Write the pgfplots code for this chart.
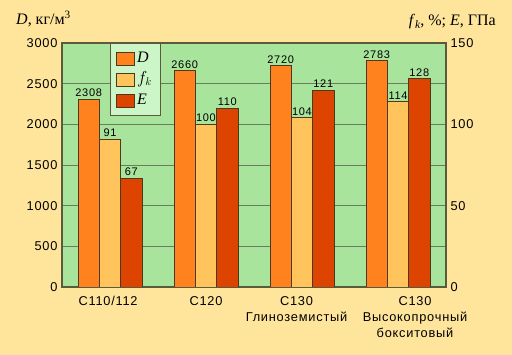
\documentclass[border=0pt]{standalone}
\usepackage{pgfplots}
\pgfplotsset{compat=1.18}
\usepackage{fontspec}
\setmainfont{Liberation Sans}
\newfontfamily\lab[LetterSpace=6]{Liberation Sans}
\newfontfamily\vlab[LetterSpace=6]{Liberation Sans}
\newfontfamily\ser{Liberation Serif}
\definecolor{bgc}{HTML}{FFE59B}
\definecolor{plotg}{HTML}{A8E49C}
\definecolor{legg}{HTML}{CCF6C8}
\definecolor{dcol}{HTML}{FF821E}
\definecolor{fcol}{HTML}{FFC45C}
\definecolor{ecol}{HTML}{DD4400}
\definecolor{gridc}{HTML}{6A7C5E}
\definecolor{framec}{HTML}{5A5A3C}
\definecolor{barb}{HTML}{4A3A20}
\pgfplotsset{
  common/.style={
    at={(62pt,68pt)}, anchor=south west,
    width=384pt, height=244pt, scale only axis,
    xmin=-0.5, xmax=3.5, ymin=0,
    ybar, bar width=21.3pt,
    major tick length=0pt,
    /pgf/number format/assume math mode=true,
    /pgf/number format/1000 sep={},
    tick label style={font=\fontsize{12.8}{16}\selectfont\lab},
    nodes near coords,
    every node near coord/.append style={font=\fontsize{11}{12}\selectfont\vlab, inner sep=2pt},
    every axis plot/.append style={draw=barb, line width=0.7pt},
    axis line style={draw=framec, line width=1.2pt},
    legend image code/.code={\draw[#1,draw=barb,line width=0.7pt] (0pt,-6.5pt) rectangle (18pt,6.5pt);},
  }
}
\begin{document}
\begin{tikzpicture}
\fill[bgc] (0,0) rectangle (512pt,355pt);
\begin{axis}[common,
  ymax=3000, ytick={0,500,...,3000},
  axis background/.style={fill=plotg},
  ymajorgrids, grid style={draw=gridc, line width=0.6pt},
  xtick={-0.02,1,1.943,3.177},
  xticklabels={С110/112, С120, {С130\\Глиноземистый}, {С130\\Высокопрочный\\бокситовый}},
  xticklabel style={align=center, yshift=-6pt},
  yticklabel style={xshift=-1pt},
]
\addplot[fill=dcol, bar shift=-21.3pt] coordinates {(0,2308) (1,2660) (2,2720) (3,2783)};
\end{axis}
\begin{axis}[common,
  ymax=150, ytick={0,50,100,150},
  axis y line*=right, axis x line=none,
  yticklabel style={xshift=1pt},
  legend style={at={(rel axis cs:0.125,1)}, anchor=north west,
    fill=legg, draw=framec, line width=0.8pt,
    font=\fontsize{16}{16}\selectfont\ser\itshape,
    inner xsep=6pt, inner ysep=6pt, row sep=3pt,
    nodes={text height=11pt, text depth=3pt}},
  legend cell align=left,
]
\addlegendimage{fill=dcol}
\addlegendentry{D}
\addplot[fill=fcol, bar shift=0pt] coordinates {(0,91) (1,100) (2,104) (3,114)};
\addlegendentry{$f_k$}
\addplot[fill=ecol, bar shift=21.3pt] coordinates {(0,67) (1,110) (2,121) (3,128)};
\addlegendentry{E}
\end{axis}
\node[anchor=base west, font=\fontsize{16}{16}\selectfont\ser, inner sep=0pt] at (16pt,330pt) {\textit{D}, кг/м\textsuperscript{3}};
\node[anchor=base east, font=\fontsize{16}{16}\selectfont\ser, inner sep=0pt] at (496pt,329pt) {\textit{f}\raisebox{-0.35ex}{\fontsize{11.5}{12}\selectfont\textit{k}}, \%; \textit{E}, ГПа};
\end{tikzpicture}
\end{document}
